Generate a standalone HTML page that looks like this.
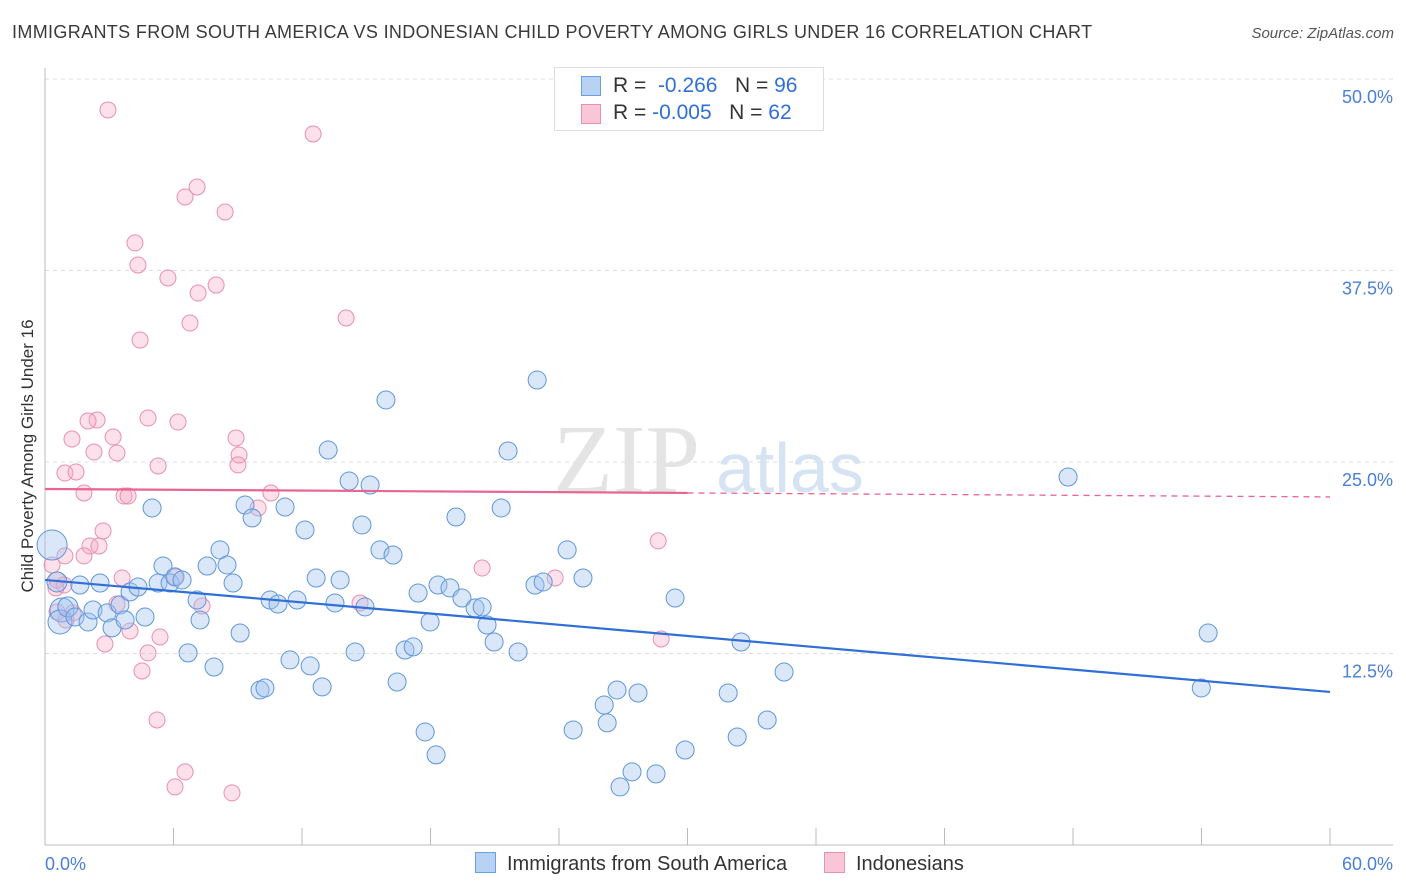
<!DOCTYPE html>
<html><head><meta charset="utf-8"><style>
body{margin:0;background:#fff;font-family:"Liberation Sans",sans-serif;}
#wrap{position:relative;width:1406px;height:892px;overflow:hidden}
.t{position:absolute;white-space:nowrap}
</style></head><body>
<div id="wrap">
<div class="t" style="left:12px;top:22px;font-size:18px;letter-spacing:0.35px;color:#3a3a3a">IMMIGRANTS FROM SOUTH AMERICA VS INDONESIAN CHILD POVERTY AMONG GIRLS UNDER 16 CORRELATION CHART</div>
<div class="t" style="right:12px;top:25px;font-size:15px;color:#555;font-style:italic">Source: ZipAtlas.com</div>
<svg id="svg" width="1406" height="892" style="position:absolute;left:0;top:0"></svg>
</div>
<script>
const xTicks=[0,6,12,18,24,30,36,42,48,54,60];
const yTicks=[12.5,25,37.5,50];
const blueX=[0.33,0.56,0.79,0.70,1.07,1.40,1.63,2.01,2.24,2.57,2.90,3.13,3.50,3.74,3.97,4.34,4.67,5.00,5.28,5.51,5.84,6.07,6.40,6.68,7.10,7.24,7.57,7.89,8.17,8.50,8.78,9.11,9.34,9.67,10.04,10.27,10.51,10.88,11.21,11.44,11.77,12.14,12.38,12.66,12.94,13.22,13.54,13.78,14.20,14.48,14.80,14.94,15.18,15.64,15.92,16.25,16.44,16.81,17.19,17.42,17.75,17.98,18.26,18.35,18.91,19.19,19.47,20.08,20.41,20.64,20.97,21.30,21.62,22.09,22.88,22.98,23.26,24.38,24.66,25.12,26.11,26.25,26.71,26.85,27.41,27.69,28.53,29.42,29.89,31.90,32.32,32.50,33.72,34.51,47.77,53.99,54.31];
const blueY=[19.58,17.17,15.34,14.56,15.54,14.88,16.97,14.56,15.34,17.10,15.15,14.17,15.67,14.69,16.52,16.84,14.88,22.00,17.10,18.21,17.10,17.50,17.30,12.54,15.99,14.69,18.21,11.62,19.26,18.28,17.10,13.84,22.19,21.35,10.12,10.25,15.99,15.73,22.06,12.08,15.99,20.56,11.69,17.43,10.32,25.78,15.80,17.30,23.76,12.60,20.89,15.54,23.50,19.26,29.05,18.93,10.64,12.73,12.93,16.45,7.38,14.56,5.88,16.97,16.78,21.41,16.12,15.47,15.54,14.36,13.25,22.00,25.72,12.60,16.97,30.35,17.17,19.26,7.51,17.43,9.14,7.97,10.12,3.79,4.77,9.92,4.64,16.12,6.20,9.92,7.05,13.25,8.16,11.29,24.02,10.25,13.84];
const blueR=[15,10,12,12,10,9,9,9,9,9,9,9,9,9,9,9,9,9,9,9,9,9,9,9,9,9,9,9,9,9,9,9,9,9,9,9,9,9,9,9,9,9,9,9,9,9,9,9,9,9,9,9,9,9,9,9,9,9,9,9,9,9,9,9,9,9,9,9,9,9,9,9,9,9,9,9,9,9,9,9,9,9,9,9,9,9,9,9,9,9,9,9,9,9,9,9,9];
const pinkX=[2.94,12.52,7.10,6.54,8.41,4.20,4.34,5.74,7.99,7.15,14.06,6.77,4.44,4.81,6.21,2.43,2.01,1.26,3.18,8.92,2.29,3.36,9.06,9.01,5.28,0.93,1.45,1.82,3.69,3.88,10.55,9.95,2.71,28.63,2.10,2.52,0.93,1.82,0.33,3.60,0.56,0.89,20.41,23.82,6.07,0.51,0.56,3.36,7.33,14.71,1.31,0.98,5.37,3.97,2.80,28.77,4.81,4.53,5.23,6.54,6.07,8.73];
const pinkY=[47.98,46.41,42.95,42.30,41.32,39.30,37.86,37.01,36.55,36.03,34.40,34.07,32.96,27.87,27.61,27.74,27.68,26.50,26.63,26.57,25.65,25.59,25.46,24.81,24.74,24.28,24.35,22.98,22.78,22.78,22.98,22.00,20.50,19.85,19.52,19.52,18.87,18.87,18.28,17.43,17.30,16.97,18.08,17.43,17.50,16.78,15.21,15.73,15.60,15.80,15.15,14.69,13.58,13.97,13.12,13.45,12.54,11.36,8.16,4.77,3.79,3.40];
const blueTrend=[17.30,9.99];
const pinkTrend=[23.24,22.72];
const NS="http://www.w3.org/2000/svg";
const svg=document.getElementById('svg');
const X=v=>45+v/60*1285, Y=v=>845-v/50*766;
function mk(t,a,p){const e=document.createElementNS(NS,t);for(const k in a)e.setAttribute(k,a[k]);(p||svg).appendChild(e);return e;}
yTicks.forEach((t,i)=>{
 const g=mk('line',{x1:45,x2:1393,y1:Y(t),y2:Y(t),stroke:'#dcdcdc','stroke-dasharray':'4,4'});
 
 
 const l=mk('text',{x:1393,y:Y(t)+24,'text-anchor':'end','font-size':18,fill:'#4a7fd6','font-family':'Liberation Sans'});
 l.textContent=t.toFixed(1)+'%';
 
 
});
const ax=mk('line',{x1:45,x2:1393,y1:845,y2:845,stroke:'#bbb'});


const ay=mk('line',{x1:45,x2:45,y1:68,y2:845,stroke:'#bbb'});


xTicks.forEach(t=>{
 const k=mk('line',{x1:X(t),x2:X(t),y1:828,y2:845,stroke:'#bbb'});
 
 
});
[[0,'start',45],[60,'end',1393]].forEach(([t,a,x])=>{
 const l=mk('text',{x:x,y:870,'text-anchor':a,'font-size':18,fill:'#4a7fd6','font-family':'Liberation Sans'});
 l.textContent=t.toFixed(1)+'%';
 
 
});
const wm=mk('text',{x:553,y:492,'font-size':98,fill:'#e4e4e4','font-family':'Liberation Serif'});wm.textContent='ZIP';


const wm2=mk('text',{x:716,y:492,'font-size':70,fill:'#d6e3f3','font-family':'Liberation Sans'});wm2.textContent='atlas';


pinkX.forEach((x,i)=>{
 const c=mk('circle',{cx:X(x),cy:Y(pinkY[i]),r:8,fill:'rgba(245,170,195,0.35)',stroke:'#e98fb0','stroke-width':1});
 
 
});
blueX.forEach((x,i)=>{
 const c=mk('circle',{cx:X(x),cy:Y(blueY[i]),r:blueR[i],fill:'rgba(160,195,240,0.4)',stroke:'#5f96dc','stroke-width':1});
 
 
});
const bl=mk('line',{x1:X(0),x2:X(60),y1:Y(blueTrend[0]),y2:Y(blueTrend[1]),stroke:'#2f6fd6','stroke-width':2.2});


const pm=v=>pinkTrend[0]+(pinkTrend[1]-pinkTrend[0])*v/60;
const pl=mk('line',{x1:X(0),x2:X(30),y1:Y(pm(0)),y2:Y(pm(30)),stroke:'#e8658f','stroke-width':2.2});


const pd=mk('line',{x1:X(30),x2:X(60),y1:Y(pm(30)),y2:Y(pm(60)),stroke:'#e8658f','stroke-width':1.3,'stroke-dasharray':'6,5'});


const yl=mk('text',{x:0,y:0,transform:'translate(33,456) rotate(-90)','text-anchor':'middle','font-size':17,fill:'#333','font-family':'Liberation Sans'});
yl.textContent='Child Poverty Among Girls Under 16';


</script>
<div class="t" style="left:554px;top:67px;width:268px;height:62px;border:1px solid #ddd;background:#fff;font-size:21px">
 <div style="position:absolute;left:26px;top:8px;width:18px;height:18px;background:#b8d2f4;border:1px solid #6a9fe0"></div>
 <div style="position:absolute;left:58px;top:6px;color:#333">R = <span style="color:#2f6fd6">&nbsp;-0.266</span>&nbsp;&nbsp;&nbsp;N = <span style="color:#2f6fd6">96</span></div>
 <div style="position:absolute;left:26px;top:36px;width:18px;height:18px;background:#f8c6d6;border:1px solid #e98fb0"></div>
 <div style="position:absolute;left:58px;top:33px;color:#333">R = <span style="color:#2f6fd6">-0.005</span>&nbsp;&nbsp;&nbsp;N = <span style="color:#2f6fd6">62</span></div>
</div>
<div class="t" style="left:475px;top:852px;font-size:20px;color:#333"><span style="display:inline-block;width:19px;height:19px;background:#b8d2f4;border:1px solid #6a9fe0;vertical-align:-3px;margin-right:11px"></span>Immigrants from South America</div>
<div class="t" style="left:824px;top:852px;font-size:20px;color:#333"><span style="display:inline-block;width:19px;height:19px;background:#f8c6d6;border:1px solid #e98fb0;vertical-align:-3px;margin-right:11px"></span>Indonesians</div>
</body></html>
